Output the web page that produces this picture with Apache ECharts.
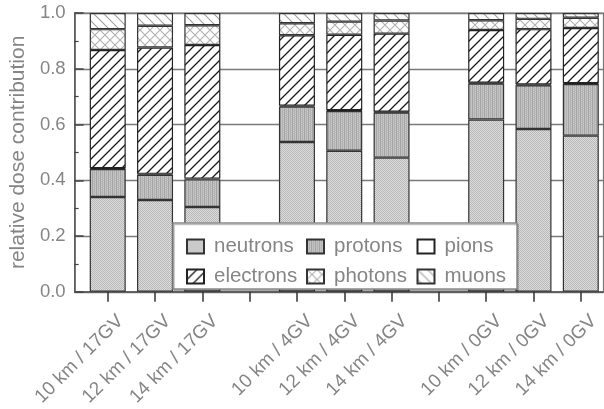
<!DOCTYPE html>
<html>
<head>
<meta charset="utf-8">
<script src="https://cdn.jsdelivr.net/npm/echarts@6/dist/echarts.min.js"></script>
<style>html,body{margin:0;padding:0;background:#fff}#c{width:604px;height:409px}</style>
</head>
<body>
<div id="c"></div>
<script>
// ---- data ----
const categories = ['10 km / 17GV','12 km / 17GV','14 km / 17GV','',
                    '10 km / 4GV','12 km / 4GV','14 km / 4GV','',
                    '10 km / 0GV','12 km / 0GV','14 km / 0GV'];
const seriesNames = ['neutrons','protons','pions','electrons','photons','muons'];
const neutrons  = [0.340, 0.329, 0.304, 0.537, 0.506, 0.481, 0.618, 0.584, 0.560];
const protons   = [0.100, 0.091, 0.099, 0.127, 0.142, 0.162, 0.129, 0.157, 0.185];
const pions     = [0.003, 0.003, 0.003, 0.003, 0.003, 0.003, 0.003, 0.003, 0.003];
const electrons = [0.424, 0.453, 0.479, 0.253, 0.271, 0.280, 0.189, 0.198, 0.198];
const photons   = [0.075, 0.078, 0.071, 0.043, 0.047, 0.047, 0.035, 0.037, 0.037];
const muons     = [0.058, 0.046, 0.044, 0.037, 0.031, 0.027, 0.026, 0.021, 0.017];
const yTicks = [0, 0.2, 0.4, 0.6, 0.8, 1.0];

// ---- patterns ----
function pat(w, h, draw) {
  const c = document.createElement('canvas');
  c.width = w; c.height = h;
  const g = c.getContext('2d');
  draw(g, w, h);
  return { image: c, repeat: 'repeat' };
}
const pNeutrons = pat(4, 4, (g) => {
  g.fillStyle = '#dcdcdc'; g.fillRect(0, 0, 4, 4);
  g.fillStyle = '#b8b8b8';
  g.fillRect(0, 0, 1, 1); g.fillRect(2, 0, 1, 1); g.fillRect(1, 1, 1, 1); g.fillRect(3, 1, 1, 1);
  g.fillRect(0, 2, 1, 1); g.fillRect(2, 2, 1, 1); g.fillRect(1, 3, 1, 1); g.fillRect(3, 3, 1, 1);
});
const pProtons = pat(4, 2, (g) => {
  const cols = ['#a4a4a4', '#c6c6c6', '#b2b2b2', '#cacaca'];
  for (let x = 0; x < 4; x++) { g.fillStyle = cols[x]; g.fillRect(x, 0, 1, 2); }
  g.fillStyle = '#bcbcbc'; g.fillRect(1, 1, 1, 1); g.fillRect(3, 0, 1, 1);
});
const pPions = '#ffffff';
function hatch(color, lw, dirs) {
  return pat(10, 10, (g) => {
    g.fillStyle = '#ffffff'; g.fillRect(0, 0, 10, 10);
    g.strokeStyle = color; g.lineWidth = lw;
    g.beginPath();
    if (dirs.indexOf('/') >= 0) {
      g.moveTo(-5, 5); g.lineTo(5, -5);
      g.moveTo(0, 10); g.lineTo(10, 0);
      g.moveTo(5, 15); g.lineTo(15, 5);
    }
    if (dirs.indexOf('\\') >= 0) {
      g.moveTo(-5, 5); g.lineTo(5, 15);
      g.moveTo(0, 0); g.lineTo(10, 10);
      g.moveTo(5, -5); g.lineTo(15, 5);
    }
    g.stroke();
  });
}
const pElectrons = hatch('#1a1a1a', 1.3, '/');
const pPhotons = hatch('#b0b0b0', 1.1, '/\\');
const pMuons = hatch('#a0a0a0', 1.1, '\\');

const fills = [pNeutrons, pProtons, pPions, pElectrons, pPhotons, pMuons];
const values = [neutrons, protons, pions, electrons, photons, muons];
const borders = ['#333', '#333', '#222', '#222', '#333', '#333'];

const positions = categories.map((c, i) => i).filter(i => categories[i] !== '');
const tickPositions = categories.map((c, i) => i);

const FONT = 'Liberation Sans, Arial, sans-serif';
const GRAY = '#858585';

// data items are [value, position] so that the value dimension is the stacked one
const series = seriesNames.map((name, k) => ({
  name: name,
  type: 'bar',
  stack: 'total',
  barWidth: 36,
  encode: { x: 1, y: 0 },
  data: positions.map((x, i) => [values[k][i], x]),
  itemStyle: { color: fills[k], borderColor: borders[k], borderWidth: 1.2 },
  emphasis: { disabled: true },
  z: 2
}));

function legendCol(names, left) {
  return {
    data: names, orient: 'vertical', left: left, top: 236,
    padding: 0, itemWidth: 17, itemHeight: 14, itemGap: 9, icon: 'rect',
    selectedMode: false,
    textStyle: { color: GRAY, fontSize: 20.5, lineHeight: 16, fontFamily: FONT, padding: [0, 0, 0, 5] },
    z: 5
  };
}

const chart = echarts.init(document.getElementById('c'), null, { renderer: 'canvas' });
chart.setOption({
  animation: false,
  backgroundColor: '#ffffff',
  grid: { left: 72.7, right: 0.5, top: 13, bottom: 114, show: true, borderColor: '#777', borderWidth: 1.2, containLabel: false },
  xAxis: {
    type: 'value', min: -0.7, max: 10.48,
    axisLine: { show: true, onZero: false, lineStyle: { color: '#555', width: 1.5 } },
    splitLine: { show: false },
    axisTick: { show: true, customValues: tickPositions, length: 10, inside: false, lineStyle: { color: '#333', width: 1.5 } },
    axisLabel: {
      customValues: positions, formatter: v => categories[Math.round(v)],
      rotate: 45, margin: 39, padding: [0, -18, 0, 0],
      color: GRAY, fontSize: 19, fontFamily: FONT
    }
  },
  yAxis: {
    type: 'value', min: 0, max: 1, interval: 0.2,
    name: 'relative dose contribution', nameLocation: 'middle', nameGap: 40,
    nameTextStyle: { color: GRAY, fontSize: 21, fontFamily: FONT },
    axisLine: { show: true, onZero: false, lineStyle: { color: '#555', width: 1.5 } },
    axisTick: { show: true, inside: true, length: 9, lineStyle: { color: '#444', width: 1.5 } },
    minorTick: { show: true, splitNumber: 2, length: 4, lineStyle: { color: '#444', width: 1.2 } },
    splitLine: { show: true, lineStyle: { color: '#7a7a7a', width: 1.3 } },
    axisLabel: { formatter: v => v.toFixed(1), color: GRAY, fontSize: 18.5, fontFamily: FONT, margin: 9, padding: [3, 0, 0, 0] }
  },
  legend: [
    legendCol(['neutrons', 'electrons'], 186),
    legendCol(['protons', 'photons'], 306),
    legendCol(['pions', 'muons'], 416.5)
  ],
  graphic: [{
    type: 'rect', z: 3,
    shape: { x: 173, y: 223, width: 344, height: 66 },
    style: { fill: '#ffffff', stroke: '#8a8a8a', lineWidth: 1.5, shadowColor: 'rgba(0,0,0,0.25)', shadowOffsetX: 1, shadowOffsetY: 1.5, shadowBlur: 0 }
  }],
  series: series
});
</script>
</body>
</html>
